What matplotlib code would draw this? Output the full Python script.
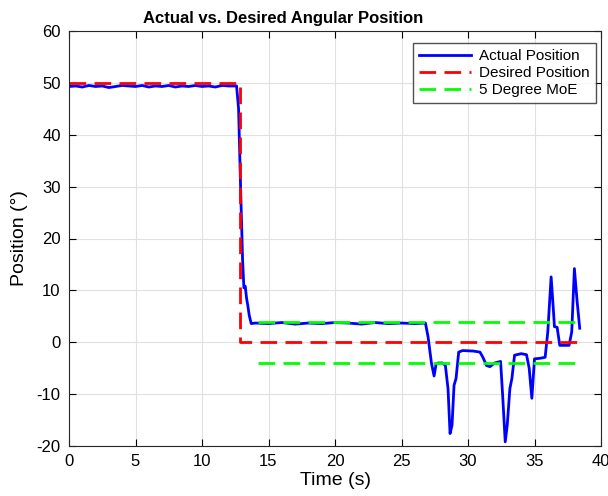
import matplotlib
matplotlib.use("Agg")
import matplotlib.pyplot as plt

plt.rcParams["font.family"] = ["Liberation Sans", "DejaVu Sans"]
plt.rcParams["axes.unicode_minus"] = False

# Actual position trace
actual_t = [0.0, 0.5, 1.0, 1.5, 2.0, 2.5, 3.0, 3.5, 4.0, 4.5, 5.0, 5.5, 6.0, 6.5,
            7.0, 7.5, 8.0, 8.5, 9.0, 9.5, 10.0, 10.5, 11.0, 11.5, 12.0, 12.6,
            12.75, 12.9, 13.05, 13.15, 13.25, 13.35, 13.45, 13.55, 13.7, 14.0,
            15.0, 16.0, 17.0, 18.0, 19.0, 20.0, 21.0, 22.0, 23.0, 24.0, 25.0,
            26.0, 26.8, 27.0, 27.25, 27.45, 27.6, 27.75, 28.1, 28.3, 28.5, 28.65,
            28.8, 28.95, 29.1, 29.3, 29.6, 30.4, 30.9, 31.1, 31.4, 31.65, 32.0,
            32.45, 32.6, 32.8, 32.95, 33.15, 33.3, 33.5, 34.0, 34.4, 34.6, 34.8,
            35.0, 35.4, 35.8, 36.0, 36.25, 36.4, 36.5, 36.7, 36.9, 37.3, 37.6,
            37.8, 38.0, 38.2, 38.4]
actual_pos = [49.3, 49.4, 49.2, 49.5, 49.3, 49.4, 49.1, 49.3, 49.5, 49.4, 49.3,
              49.5, 49.2, 49.4, 49.3, 49.5, 49.2, 49.4, 49.3, 49.5, 49.3, 49.4,
              49.2, 49.5, 49.4, 49.4, 45.0, 30.0, 16.0, 10.5, 10.8, 8.5, 7.0,
              5.2, 3.6, 3.7, 3.6, 3.8, 3.5, 3.7, 3.6, 3.8, 3.7, 3.5, 3.8, 3.6,
              3.7, 3.6, 3.7, 1.0, -4.0, -6.5, -4.2, -4.0, -4.0, -4.5, -9.0, -17.6,
              -16.0, -8.3, -7.0, -1.9, -1.6, -1.7, -1.9, -2.8, -4.5, -4.7, -4.0,
              -3.7, -10.0, -19.2, -16.0, -8.9, -7.0, -2.5, -2.2, -2.4, -5.0,
              -10.8, -3.2, -3.1, -2.9, 2.0, 12.6, 7.0, 3.0, 2.9, -0.6, -0.6, -0.6,
              2.0, 14.2, 8.0, 2.7]

# Desired position step
desired_t = [0.0, 12.86, 12.86, 38.4]
desired_pos = [50, 50, 0, 0]

# 5 degree margin of error band
moe_t = [14.2, 38.4]
moe_upper = [4, 4]
moe_lower = [-4, -4]

fig = plt.figure(figsize=(6.08, 4.96), dpi=100)
ax = fig.add_axes([69 / 608, 1 - 446 / 496, 532 / 608, 415 / 496])

dash = (0, (6, 3))
ax.plot(actual_t, actual_pos, color="#0000ff", lw=2, label="Actual Position")
ax.plot(desired_t, desired_pos, color="#ff0000", lw=2, ls=dash, label="Desired Position")
ax.plot(moe_t, moe_upper, color="#00ff00", lw=2, ls=dash, label="5 Degree MoE")
ax.plot(moe_t, moe_lower, color="#00ff00", lw=2, ls=dash)

ax.set_xlim(0, 40)
ax.set_ylim(-20, 60)
ax.set_xticks(range(0, 41, 5))
ax.set_yticks(range(-20, 61, 10))
ax.tick_params(direction="in", top=True, right=True, labelsize=12, length=5, pad=6)
ax.grid(True, color="#e0e0e0", lw=0.8)
ax.set_axisbelow(True)
for s in ax.spines.values():
    s.set_linewidth(0.8)
    s.set_color("#262626")

ax.set_xlabel("Time (s)", fontsize=14, labelpad=2)
ax.set_ylabel("Position (°)", fontsize=14, labelpad=6)
ax.set_title("Actual vs. Desired Angular Position", fontsize=12, fontweight="bold",
             x=0.402, pad=6)

ax.legend(loc="upper right", fontsize=11, frameon=True, fancybox=False,
          edgecolor="#262626", handlelength=3.4, borderpad=0.4, labelspacing=0.2,
          handletextpad=0.5, borderaxespad=0, bbox_to_anchor=(0.99, 0.971))

fig.savefig("out.png", dpi=100)
